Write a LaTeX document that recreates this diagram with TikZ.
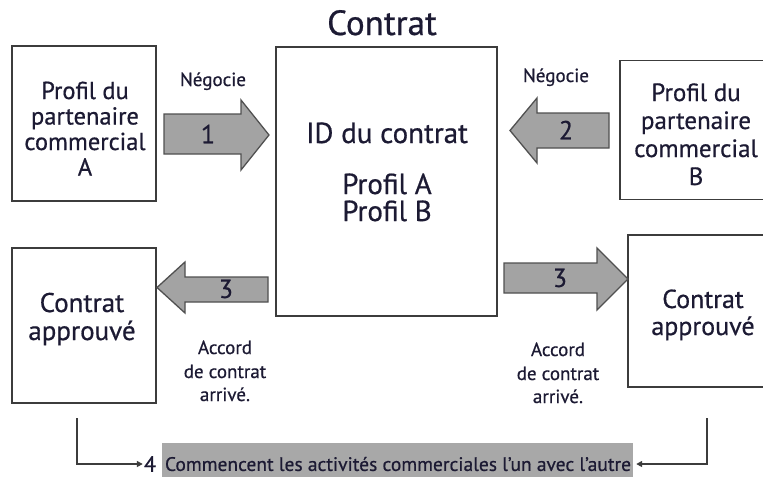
\documentclass[tikz,border=0pt]{standalone}
\usepackage{fontspec}
\setmainfont{PT Sans}[FakeBold=0.6]
\usetikzlibrary{arrows.meta}
\definecolor{ink}{HTML}{1C1A33}
\definecolor{edge}{HTML}{3C3C3C}
\definecolor{arrfill}{HTML}{A3A3A3}
\definecolor{band}{HTML}{A8A8A8}
\tikzset{
  box/.style={draw=edge, line width=1.7pt, fill=white, inner sep=0pt},
  bigarrow/.style={draw=edge!90, line width=1.3pt, fill=arrfill, line join=miter},
  ln/.style={text=ink, anchor=base, inner sep=0pt},
  fa/.style={font=\fontsize{24.5}{26}\selectfont},
  fb/.style={font=\fontsize{25}{26}\selectfont},
  fla/.style={font=\fontsize{27}{28}\selectfont},
  fra/.style={font=\fontsize{26}{28}\selectfont},
  fs/.style={font=\fontsize{19}{21}\selectfont},
  numtxt/.style={text=ink, font=\fontsize{26}{28}\selectfont},
  conn/.style={draw=edge, line width=1.6pt, -{Triangle[length=6pt,width=6pt]}},
}
\begin{document}
\begin{tikzpicture}[x=1pt,y=-1pt]
\useasboundingbox (0,0) rectangle (763,477);
\fill[white] (0,0) rectangle (763,477);

% boxes (the right-hand boxes run past the right edge)
\node[box, minimum width=144pt, minimum height=155pt] (A) at (84,123.5) {};
\node[box, minimum width=221pt, minimum height=269pt] (C) at (386.5,181.5) {};
\node[box, minimum width=150pt, minimum height=139pt] (B) at (695,130) {};
\node[box, minimum width=144pt, minimum height=155pt] (LA) at (84,325.5) {};
\node[box, minimum width=142pt, minimum height=152pt] (RA) at (699,311) {};

% texts in box A
\node[ln, fa] (a1) at (85,99) {Profil du};
\node[ln, fa] (a2) at (85,124.5) {partenaire};
\node[ln, fa] (a3) at (85,150) {commercial};
\node[ln, fa] (a4) at (85,175.5) {A};
% texts in box B
\node[ln, fb] (b1) at (696,101) {Profil du};
\node[ln, fb] (b2) at (696,129) {partenaire};
\node[ln, fb] (b3) at (696,157) {commercial};
\node[ln, fb] (b4) at (696,185) {B};
% central box
\node[ln, font=\fontsize{35}{38}\selectfont] (title) at (382,35) {Contrat};
\node[ln, font=\fontsize{29}{32}\selectfont] (cid) at (387,143) {ID du contrat};
\node[ln, font=\fontsize{29}{32}\selectfont] (pa) at (387,194) {Profil A};
\node[ln, font=\fontsize{29}{32}\selectfont] (pb) at (387,221) {Profil B};
% approved boxes
\node[ln, fla] (la1) at (82,312) {Contrat};
\node[ln, fla] (la2) at (82,340) {approuvé};
\node[ln, fra] (ra1) at (703,308) {Contrat};
\node[ln, fra] (ra2) at (703,335) {approuvé};

% big arrows
\draw[bigarrow] (164,114) -- (241,114) -- (241,100) -- (269,135) -- (241,170) -- (241,154) -- (164,154) -- cycle;
\node[numtxt] (n1) at (208,134) {1};
\draw[bigarrow] (609,113) -- (537,113) -- (537,98) -- (510,130.5) -- (537,163) -- (537,148) -- (609,148) -- cycle;
\node[numtxt] (n2) at (566,130) {2};
\draw[bigarrow] (268,277) -- (185,277) -- (185,262) -- (157,287.5) -- (185,313) -- (185,302) -- (268,302) -- cycle;
\node[numtxt] (n3l) at (226,289) {3};
\draw[bigarrow] (504,263) -- (597,263) -- (597,248) -- (628,279) -- (597,310) -- (597,293) -- (504,293) -- cycle;
\node[numtxt] (n3r) at (560,278) {3};

% small labels
\node[ln, fs] (neg1) at (213,86) {Négocie};
\node[ln, fs] (neg2) at (556,82) {Négocie};
\node[ln, fs] (acc1a) at (225,354) {Accord};
\node[ln, fs] (acc1b) at (225,378) {de contrat};
\node[ln, fs] (acc1c) at (225,401) {arrivé.};
\node[ln, fs] (acc2a) at (558,356) {Accord};
\node[ln, fs] (acc2b) at (558,380) {de contrat};
\node[ln, fs] (acc2c) at (558,403) {arrivé.};

% bottom band
\node[fill=band, minimum width=471pt, minimum height=34pt, inner sep=0pt] (bandbox) at (397.5,460) {};
\node[text=ink, font=\fontsize{19.5}{21}\selectfont] (bandtxt) at (398,464) {Commencent les activités commerciales l'un avec l'autre};
\node[text=ink, inner sep=1pt, font=\fontsize{22}{24}\selectfont] (n4) at (150,464) {4};

% connectors
\coordinate (ls) at (77,418);
\coordinate (rs) at (707,418);
\draw[conn] (ls) |- (n4.west);
\draw[conn] (rs) |- ([xshift=3pt]bandbox.east |- bandtxt);
\end{tikzpicture}
\end{document}
